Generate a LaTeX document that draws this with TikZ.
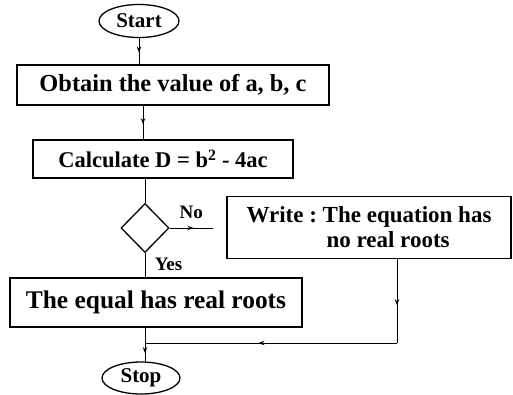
\documentclass[tikz,border=0pt]{standalone}
\usepackage{fontspec}
\setmainfont{Liberation Serif}
\frenchspacing
\usetikzlibrary{arrows.meta,shapes.geometric,decorations.markings}

\begin{document}
\begin{tikzpicture}[x=1pt, y=-1pt, >={Stealth[length=6pt,width=4.5pt]},
  box/.style={draw, line width=1.3pt, inner sep=0pt, font=\bfseries},
  term/.style={draw, ellipse, line width=1.3pt, inner sep=0pt, font=\bfseries\fontsize{21}{21}\selectfont},
  flow/.style={line width=1pt},
  lbl/.style={font=\bfseries\fontsize{19}{19}\selectfont},
  midarrow/.style={postaction={decorate}, decoration={markings, mark=at position .55 with {\arrow{>}}}}]
  \useasboundingbox (0,0) rectangle (513,394);

  % terminals and boxes
  \node[term, minimum width=80pt, minimum height=33pt] (start) at (139,21) {Start};
  \node[box, minimum width=312pt, minimum height=40pt, font=\bfseries\fontsize{24.4}{25}\selectfont] (obtain) at (173,85) {Obtain the value of a, b, c};
  \node[box, minimum width=260pt, minimum height=38pt, font=\bfseries\fontsize{22.5}{23}\selectfont] (calc) at (163,159) {Calculate D = b\textsuperscript{2} - 4ac};
  \node[draw, diamond, line width=1.3pt, inner sep=0pt, minimum width=48pt, minimum height=49pt] (dec) at (145,228) {};
  \node[box, minimum width=284pt, minimum height=62pt, align=left, font=\bfseries\fontsize{23}{25}\selectfont] (write) at (369,227.5) {Write : The equation has\\\hspace*{80pt}no real roots};
  \node[box, minimum width=292pt, minimum height=49pt, font=\bfseries\fontsize{25.4}{26}\selectfont] (roots) at (156,302.5) {The equal has real roots};
  \node[term, minimum width=78pt, minimum height=32pt] (stop) at (141,378) {Stop};

  % connectors
  \coordinate (noend) at (213,228);
  \coordinate (bend) at (397,343);
  \coordinate (join) at (145,343);
  \draw[flow, midarrow] (start.south) -- (start.south |- obtain.north);
  \draw[flow, midarrow] (obtain.south -| 143,0) -- (calc.north -| 143,0);
  \draw[flow] (calc.south -| dec.north) -- (dec.north);
  \draw[flow, midarrow] (dec.east) -- (noend) node[pos=.5, above=5pt, lbl] {No};
  \draw[flow] (dec.south) -- (dec.south |- roots.north) node[pos=.45, right=6pt, lbl] {Yes};
  \draw[flow, midarrow] (write.south -| bend) -- (bend);
  \draw[flow, midarrow] (bend) -- (join);
  \draw[flow] (roots.south -| join) -- (join);
  \draw[flow, midarrow] (join) -- (join |- stop.north);
\end{tikzpicture}
\end{document}
